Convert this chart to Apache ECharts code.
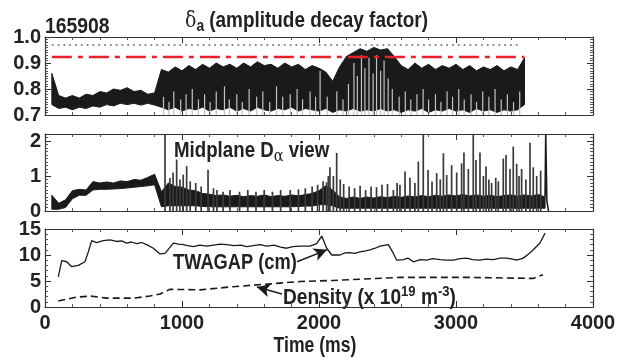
<!DOCTYPE html>
<html>
<head>
<meta charset="utf-8">
<script src="https://cdn.jsdelivr.net/npm/echarts@6/dist/echarts.min.js"></script>
<style>html,body{margin:0;background:#fff}#chart{width:619px;height:361px}</style>
</head>
<body>
<div id="chart"></div>
<script>
// envelope samples every 50 ms, starting at 50 ms
const envStart = 50, envStep = 50;

// delta_a (amplitude decay factor), upper / lower edge of the fast signal
const daHi = [.86,.775,.765,.775,.765,.78,.775,.79,.785,.80,
  .795,.805,.79,.795,.78,.785,.875,.865,.885,.87,
  .89,.875,.895,.88,.90,.885,.895,.88,.90,.885,
  .905,.89,.895,.88,.90,.885,.895,.875,.89,.88,
  .865,.83,.885,.925,.94,.955,.945,.96,.95,.955,
  .925,.89,.875,.90,.88,.895,.875,.89,.88,.895,
  .875,.89,.87,.885,.875,.89,.87,.885,.875,.92];
const daLo = [.74,.725,.73,.72,.73,.725,.735,.73,.74,.735,
  .745,.74,.745,.738,.745,.738,.73,.72,.73,.715,
  .725,.72,.73,.715,.725,.72,.73,.715,.725,.715,
  .73,.72,.715,.725,.72,.73,.715,.725,.72,.715,
  .725,.71,.72,.715,.725,.715,.72,.715,.725,.715,
  .72,.71,.72,.715,.725,.71,.72,.715,.725,.715,
  .72,.71,.725,.715,.72,.71,.72,.715,.72,.74];
// light dropouts inside the delta_a band [time, top]
const daGaps = [[865,.77],[905,.75],[940,.79],[990,.76],[1030,.78],[1075,.80],[1120,.76],[1165,.78],
  [1205,.75],[1250,.79],[1310,.81],[1345,.76],[1400,.78],[1440,.75],[1490,.80],[1545,.77],[1590,.79],
  [1640,.75],[1690,.81],[1735,.77],[1790,.78],[1840,.80],[1880,.76],[1935,.79],[1975,.77],[2008,.87],
  [2060,.77],[2130,.79],[2175,.76],[2215,.82],[2255,.90],[2280,.85],[2310,.93],[2335,.88],[2365,.92],
  [2395,.86],[2420,.93],[2450,.87],[2475,.91],[2505,.84],[2535,.80],[2585,.77],[2630,.79],[2670,.76],
  [2715,.78],[2760,.80],[2800,.76],[2850,.78],[2890,.75],[2935,.79],[2975,.77],[3020,.80],[3060,.76],
  [3110,.78],[3150,.75],[3195,.79],[3240,.77],[3285,.80],[3330,.76],[3375,.78],[3420,.75],[3465,.79]];
// reference levels
const redT = [50, 3500], redLevel = 0.923;
const dotT = [50, 3470], dotLevel = 0.969;

// midplane D-alpha, base band and spikes
const dalHi = [.45,.22,.32,.58,.62,.60,.84,.80,.83,.80,
  .86,.84,.90,.88,.96,1.05,.55,.80,.70,.68,
  .60,.58,.50,.48,.44,.46,.42,.45,.41,.44,
  .42,.46,.41,.44,.42,.46,.43,.47,.50,.58,
  .72,.60,.40,.36,.40,.36,.40,.37,.41,.38,
  .42,.39,.43,.40,.44,.41,.45,.42,.46,.43,
  .47,.43,.46,.42,.45,.41,.44,.46,.42,.46,
  .43,.47,.40];
const dalLo = [.05,.05,.10,.35,.45,.45,.60,.62,.62,.63,
  .64,.66,.68,.70,.72,.75,.12,.15,.15,.15,
  .15,.15,.13,.12,.12,.12,.12,.12,.12,.12,
  .12,.12,.12,.12,.12,.12,.13,.14,.14,.18,
  .18,.15,.08,.08,.08,.08,.08,.08,.08,.08,
  .08,.08,.08,.08,.08,.08,.08,.08,.08,.08,
  .08,.08,.08,.08,.08,.08,.08,.08,.08,.08,
  .08,.08,.08];
const dalSpikes = [[876,2.18],[912,.94],[935,1.1],[961,1.47],[985,.9],[1009,1.04],[1034,1.28],
  [1060,.85],[1100,.8],[1140,.7],[1190,1.18],[1230,.65],[1255,.6],[1300,.55],[1350,.6],[1420,.55],
  [1480,.6],[1540,.55],[1600,.6],[1660,.55],[1720,.6],[1790,.6],[1850,.62],[1900,.65],[1950,.7],
  [1990,.75],[2030,.85],[2055,.82],[2068,1.0],[2080,1.25],[2105,1.0],[2129,1.66],[2155,.9],
  [2180,.77],[2220,.7],[2260,.65],[2300,.72],[2340,.6],[2380,.7],[2420,.68],[2460,.75],[2500,.77],
  [2543,.6],[2570,.8],[2591,.75],[2628,1.13],[2664,.95],[2700,.8],[2725,1.41],[2761,2.17],
  [2796,1.17],[2825,.84],[2859,1.08],[2885,.9],[2908,1.65],[2932,1.03],[2968,1.31],[3005,1.1],
  [3041,1.36],[3058,1.67],[3090,1.2],[3126,2.17],[3146,1.46],[3175,1.67],[3200,1.0],[3219,1.27],
  [3240,.9],[3260,.8],[3290,.95],[3309,.85],[3345,1.5],[3365,1.6],[3394,1.2],[3418,1.84],
  [3443,1.35],[3460,1.0],[3479,1.2],[3510,.9],[3540,1.95],[3564,1.25],[3589,1.0],[3618,1.15]];
const dalEnd = [[3650,.4],[3655,2.2],[3663,.3],[3675,0]];

// TWAGAP (cm) [time, gap]
const twagap = [[97,5.8],[122,8.9],[158,8.7],[195,7.75],[243,8.0],[292,8.7],[316,10.6],[341,12.75],
  [377,12.4],[426,12.75],[474,12.9],[523,12.6],[560,12.7],[596,12.3],[630,12.5],[669,12.2],[705,12.4],
  [742,12.0],[791,11.3],[839,10.2],[876,10.3],[937,12.3],[975,12.1],[1010,12.0],[1040,11.8],[1083,11.6],
  [1130,11.9],[1180,11.7],[1230,11.9],[1280,12.1],[1326,12.0],[1380,11.8],[1430,11.9],[1472,11.6],
  [1520,11.8],[1570,12.0],[1618,11.7],[1670,11.9],[1720,11.5],[1764,11.3],[1810,11.6],[1861,11.7],
  [1934,11.7],[1983,12.2],[2020,13.65],[2056,11.3],[2093,10.0],[2153,10.0],[2190,10.4],[2226,10.45],
  [2260,10.3],[2299,10.6],[2340,10.8],[2372,11.0],[2410,11.3],[2445,11.7],[2506,12.0],[2543,10.3],
  [2567,9.0],[2616,9.1],[2650,9.4],[2689,8.7],[2740,9.1],[2786,9.0],[2830,9.3],[2883,9.1],[2930,9.0],
  [2981,9.0],[3030,9.3],[3078,9.4],[3120,9.1],[3175,9.0],[3220,9.2],[3273,9.1],[3321,9.4],[3370,9.4],
  [3410,9.2],[3443,9.0],[3491,9.4],[3530,10.2],[3564,11.0],[3613,12.3],[3650,14.2]];

// line-averaged density (x 10^19 m^-3)
const denT = [97,233,330,450,645,766,840,912,1131,1372,1620,1861,2102,2591,3080,3562,3635];
const denV = [1.15,1.9,2.1,1.7,1.7,2.1,2.5,3.4,3.3,3.9,4.4,4.9,5.1,5.7,5.7,5.5,6.2];

const FONT = "'Liberation Sans',Arial,Helvetica,sans-serif";
const INK = '#1a1a1a';
const TXT = '#222';

const envT = i => envStart + i * envStep;
const pairs = (ts, vs) => ts.map((t, i) => [t, vs[i]]);

// filled envelope between lo and hi, drawn through the grid's scales
function bandSeries(xi, yi, hi, lo) {
  return {
    type: 'custom', xAxisIndex: xi, yAxisIndex: yi, silent: true, clip: true,
    data: [[envT(0), hi[0]]],
    renderItem: (params, api) => {
      const pts = [];
      hi.forEach((v, i) => pts.push(api.coord([envT(i), v])));
      for (let i = lo.length - 1; i >= 0; i--) pts.push(api.coord([envT(i), lo[i]]));
      return { type: 'polygon', shape: { points: pts },
        style: { fill: INK, stroke: INK, lineWidth: 1 } };
    }
  };
}

function xAx(grid, pos, labels) {
  return {
    type: 'value', gridIndex: grid, position: pos, min: 0, max: 4000, interval: 1000, z: 5,
    axisLine: { show: true, onZero: false, lineStyle: { color: '#333', width: 1.2 } },
    axisTick: { show: true, inside: true, length: 6, lineStyle: { color: '#333' } },
    minorTick: { show: true, splitNumber: 5, length: 3, lineStyle: { color: '#555' } },
    axisLabel: { show: labels, formatter: v => String(v), margin: 6, color: TXT,
      fontSize: 20, fontWeight: 'bold', fontFamily: FONT },
    splitLine: { show: false }
  };
}

function yAx(grid, pos, min, max, interval, minor, fmt) {
  return {
    type: 'value', gridIndex: grid, position: pos, min: min, max: max, interval: interval, z: 5,
    axisLine: { show: true, onZero: false, lineStyle: { color: '#333', width: 1.2 } },
    axisTick: { show: true, inside: true, length: 6, lineStyle: { color: '#333' } },
    minorTick: { show: true, splitNumber: minor, length: 3, lineStyle: { color: '#555' } },
    axisLabel: { show: !!fmt, formatter: fmt, margin: 4, color: TXT, padding: [4, 0, 0, 0],
      fontSize: 20, fontWeight: 'bold', fontFamily: FONT },
    splitLine: { show: false }
  };
}

function label(x, y, text, rich, sx, align) {
  return { type: 'text', x: x, y: y, scaleX: sx, silent: true,
    style: { text: text, rich: rich, fill: TXT, fontSize: 22, fontWeight: 'bold', fontFamily: FONT,
      align: align || 'left', verticalAlign: 'middle' } };
}

const bold = { fontSize: 22, fontWeight: 'bold', fontFamily: FONT, fill: TXT };
const greek = { fontFamily: "'DejaVu Serif',serif", fill: TXT };

const chart = echarts.init(document.getElementById('chart'));

const option = {
  animation: false,
  backgroundColor: '#fff',
  grid: [
    { left: 45, right: 26, top: 37, height: 78 },
    { left: 45, right: 26, top: 134, height: 77 },
    { left: 45, right: 26, top: 229, height: 78 }
  ],
  xAxis: [
    xAx(0, 'bottom', false), xAx(0, 'top', false),
    xAx(1, 'bottom', false), xAx(1, 'top', false),
    xAx(2, 'bottom', true), xAx(2, 'top', false)
  ],
  yAxis: [
    yAx(0, 'left', 0.7, 1.0, 0.1, 10, v => v.toFixed(1)), yAx(0, 'right', 0.7, 1.0, 0.1, 10, null),
    yAx(1, 'left', 0, 2.2, 1, 10, v => (Math.abs(v - Math.round(v)) < 1e-6 ? String(Math.round(v)) : '')),
    yAx(1, 'right', 0, 2.2, 1, 10, null),
    yAx(2, 'left', 0, 15, 5, 5, v => String(v)), yAx(2, 'right', 0, 15, 5, 5, null)
  ],
  series: [
    // panel 1: delta_a
    bandSeries(0, 0, daHi, daLo),
    { type: 'bar', xAxisIndex: 0, yAxisIndex: 0, barWidth: 1.2, silent: true,
      itemStyle: { color: '#c4c4c4' }, data: daGaps },
    { type: 'line', xAxisIndex: 0, yAxisIndex: 0, symbol: 'none', silent: true,
      lineStyle: { color: '#e8202a', width: 2.4, type: [20, 6, 5, 6] },
      data: redT.map(t => [t, redLevel]) },
    { type: 'line', xAxisIndex: 0, yAxisIndex: 0, symbol: 'none', silent: true,
      lineStyle: { color: '#666', width: 1.5, type: [1.8, 4] },
      data: dotT.map(t => [t, dotLevel]) },

    // panel 2: midplane D-alpha
    bandSeries(2, 2, dalHi, dalLo),
    { type: 'bar', xAxisIndex: 2, yAxisIndex: 2, barWidth: 1.7, silent: true,
      itemStyle: { color: '#3a3a3a' }, data: dalSpikes },
    { type: 'line', xAxisIndex: 2, yAxisIndex: 2, symbol: 'none', silent: true,
      lineStyle: { color: INK, width: 1.6 }, data: dalEnd },

    // panel 3: TWAGAP and density
    { type: 'line', xAxisIndex: 4, yAxisIndex: 4, symbol: 'none', silent: true,
      lineStyle: { color: INK, width: 1.3 }, data: twagap,
      markLine: { silent: true, symbol: ['none', 'arrow'], symbolSize: [10, 13],
        lineStyle: { color: INK, width: 1.4, type: 'solid' }, label: { show: false },
        data: [[{ coord: [1839, 8.7] }, { coord: [2058, 11.0] }],
               [{ coord: [1730, 2.5] }, { coord: [1547, 3.85] }]] } },
    { type: 'line', xAxisIndex: 4, yAxisIndex: 4, symbol: 'none', silent: true,
      lineStyle: { color: INK, width: 1.6, type: [7, 4] }, data: pairs(denT, denV) }
  ],
  graphic: [
    label(45, 27, '165908', null, 0.88),
    label(185, 21, '{g|δ}{s|a}{n| (amplitude decay factor)}', {
      g: Object.assign({ fontSize: 22 }, greek),
      s: Object.assign({}, bold, { fontSize: 16, padding: [12, 0, 0, 0] }),
      n: bold }, 0.86),
    label(174, 151, '{n|Midplane D}{s|α}{n| view}', {
      n: bold,
      s: Object.assign({ fontSize: 17, padding: [12, 0, 0, 0] }, greek) }, 0.85),
    label(173, 263, 'TWAGAP (cm)', null, 0.83),
    label(283, 298, '{n|Density (x 10}{p|19}{n| m}{p|-3}{n|)}', {
      n: bold,
      p: Object.assign({}, bold, { fontSize: 15, padding: [0, 0, 12, 0] }) }, 0.87),
    label(315, 346, 'Time (ms)', null, 0.8, 'center')
  ]
};

chart.setOption(option);
</script>
</body>
</html>
